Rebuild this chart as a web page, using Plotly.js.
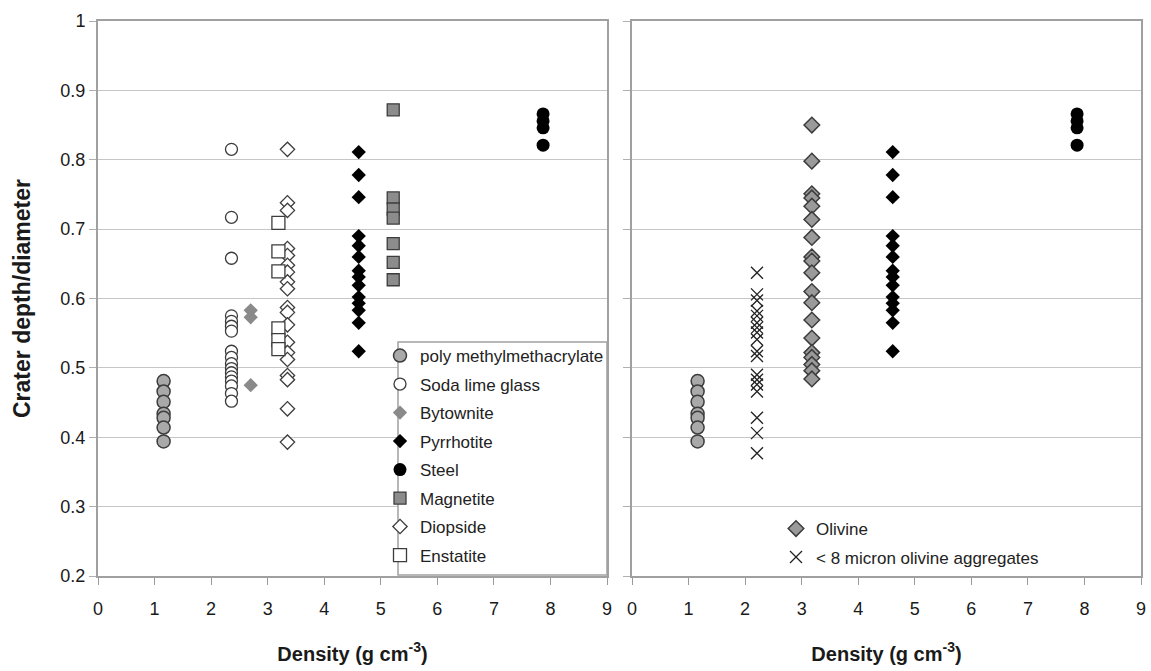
<!DOCTYPE html>
<html><head><meta charset="utf-8">
<script src="https://cdn.plot.ly/plotly-3.0.1.min.js"></script>
<style>body{margin:0;background:#fff}#chart{width:1151px;height:671px}</style>
</head><body><div id="chart"></div>
<script>
// Densities (g cm^-3)
const dPMMA = 1.16, dSoda = 2.36, dByt = 2.70, dEnst = 3.19, dDiop = 3.35,
      dPyrr = 4.61, dMagn = 5.22, dSteel = 7.87, dOliv = 3.18, dAgg = 2.21;

// Crater depth/diameter values
const pmma = [0.481, 0.466, 0.451, 0.434, 0.428, 0.414, 0.394];
const soda = [0.815, 0.717, 0.658, 0.575, 0.567, 0.560, 0.553, 0.524, 0.515, 0.506, 0.499, 0.493, 0.487, 0.481, 0.474, 0.463, 0.452];
const bytownite = [0.583, 0.573, 0.475];
const pyrrhotite = [0.811, 0.778, 0.746, 0.690, 0.676, 0.660, 0.640, 0.631, 0.619, 0.602, 0.593, 0.583, 0.565, 0.524];
const steel = [0.866, 0.856, 0.846, 0.821];
const magnetite = [0.872, 0.745, 0.729, 0.716, 0.679, 0.652, 0.627];
const diopside = [0.815, 0.738, 0.727, 0.672, 0.662, 0.648, 0.638, 0.624, 0.614, 0.587, 0.580, 0.562, 0.537, 0.522, 0.512, 0.489, 0.483, 0.441, 0.393];
const enstatite = [0.709, 0.668, 0.639, 0.557, 0.540, 0.527];
const olivine = [0.850, 0.798, 0.751, 0.745, 0.733, 0.714, 0.688, 0.660, 0.654, 0.637, 0.610, 0.594, 0.569, 0.543, 0.522, 0.515, 0.505, 0.496, 0.484];
const aggregates = [0.637, 0.606, 0.597, 0.582, 0.575, 0.565, 0.558, 0.551, 0.541, 0.524, 0.517, 0.490, 0.483, 0.476, 0.466, 0.428, 0.406, 0.377];

const xTicks = [0,1,2,3,4,5,6,7,8,9];
const yTicks = [0.2,0.3,0.4,0.5,0.6,0.7,0.8,0.9,1];
const yTickText = ['0.2','0.3','0.4','0.5','0.6','0.7','0.8','0.9','1'];

function rep(v, arr){ return arr.map(()=>v); }

function tr(name, xv, yv, marker, opts){
  return Object.assign({type:'scatter', mode:'markers', name:name,
    x: rep(xv, yv), y: yv, marker: marker, legendgroup: name, hoverinfo:'x+y'}, opts||{});
}

const mPMMA = {symbol:'circle', size:13, color:'#a9a9a9', line:{color:'#3c3c3c', width:1.5}};
const mSoda = {symbol:'circle', size:12, color:'#ffffff', line:{color:'#3c3c3c', width:1.3}};
const mByt = {symbol:'diamond', size:11, color:'#8a8a8a', line:{color:'#8a8a8a', width:0}};
const mPyrr = {symbol:'diamond', size:11, color:'#000000', line:{color:'#000', width:0}};
const mSteel = {symbol:'circle', size:13, color:'#000000', line:{color:'#000', width:0}};
const mMagn = {symbol:'square', size:12, color:'#8c8c8c', line:{color:'#3c3c3c', width:1.3}};
const mDiop = {symbol:'diamond', size:11, color:'#ffffff', line:{color:'#3c3c3c', width:1.3}};
const mEnst = {symbol:'square', size:13, color:'#ffffff', line:{color:'#3c3c3c', width:1.3}};
const mOliv = {symbol:'diamond', size:12, color:'#9a9a9a', line:{color:'#3c3c3c', width:1.5}};
const mAgg = {symbol:'x-thin-open', size:12, color:'#222222', line:{color:'#222222', width:1.3}};

const data = [
  tr('poly methylmethacrylate', dPMMA, pmma, mPMMA),
  tr('Soda lime glass', dSoda, soda, mSoda),
  tr('Bytownite', dByt, bytownite, mByt),
  tr('Pyrrhotite', dPyrr, pyrrhotite, mPyrr),
  tr('Steel', dSteel, steel, mSteel),
  tr('Magnetite', dMagn, magnetite, mMagn),
  tr('Diopside', dDiop, diopside, mDiop),
  tr('Enstatite', dEnst, enstatite, mEnst),
  tr('pmma2', dPMMA, pmma, mPMMA, {xaxis:'x2', yaxis:'y2', showlegend:false, legendgroup:'r1'}),
  tr('pyrr2', dPyrr, pyrrhotite, mPyrr, {xaxis:'x2', yaxis:'y2', showlegend:false, legendgroup:'r2'}),
  tr('steel2', dSteel, steel, mSteel, {xaxis:'x2', yaxis:'y2', showlegend:false, legendgroup:'r3'}),
  tr('< 8 micron olivine aggregates', dAgg, aggregates, mAgg, {xaxis:'x2', yaxis:'y2', legend:'legend2', legendgroup:'agg'}),
  tr('Olivine', dOliv, olivine, mOliv, {xaxis:'x2', yaxis:'y2', legend:'legend2', legendgroup:'oliv'})
];
data[12].legendrank = 1; data[11].legendrank = 2;

const F = '"Liberation Sans", Arial, sans-serif';
const axCommon = {
  range:[0,9], tickvals:xTicks, ticktext:xTicks.map(String), ticks:'outside', ticklen:7, tickcolor:'#9a9a9a',
  ticklabelstandoff:8,
  showline:true, mirror:true, linecolor:'#a0a0a0', linewidth:2, showgrid:false, zeroline:false,
  tickfont:{family:F, size:18, color:'#1a1a1a'},
  title:{text:'<b>Density (g cm<sup>-3</sup>)</b>', font:{family:F, size:20, color:'#1a1a1a'}, standoff:29}
};
const yCommon = {
  range:[0.2,1], tickvals:yTicks, ticktext:yTickText, ticks:'outside', ticklen:7, tickcolor:'#b0b0b0',
  showline:true, mirror:true, linecolor:'#a0a0a0', linewidth:2, showgrid:true, gridcolor:'#c6c6c6', gridwidth:1.2,
  zeroline:false, tickfont:{family:F, size:18, color:'#1a1a1a'}
};

const W = 1151, H = 671, ml = 98, mr = 10, mt = 21, mb = 95;
const pw = W-ml-mr, ph = H-mt-mb;
function px(xp){ return (xp-ml)/pw; }
function py(yp){ return (H-mb-yp)/ph; }

const layout = {
  width:W, height:H, margin:{l:ml, r:mr, t:mt, b:mb},
  paper_bgcolor:'#ffffff', plot_bgcolor:'#ffffff',
  font:{family:F, color:'#1a1a1a'},
  xaxis: Object.assign({}, axCommon, {domain:[0, px(607)], anchor:'y'}),
  xaxis2: Object.assign({}, axCommon, {domain:[px(632), 1], anchor:'y2'}),
  yaxis: Object.assign({}, yCommon, {anchor:'x',
    title:{text:'<b>Crater depth/diameter</b>', font:{family:F, size:23, color:'#1a1a1a'}, standoff:23}}),
  yaxis2: Object.assign({}, yCommon, {anchor:'x2', showticklabels:false}),
  showlegend:true,
  legend:{x:px(380), xanchor:'left', y:py(338), yanchor:'top', bgcolor:'rgba(0,0,0,0)',
    borderwidth:0, font:{family:F, size:17, color:'#222'}, tracegroupgap:3.4, itemsizing:'trace', traceorder:'grouped'},
  legend2:{x:px(776), xanchor:'left', y:py(511), yanchor:'top', bgcolor:'rgba(0,0,0,0)',
    borderwidth:0, font:{family:F, size:17, color:'#222'}, tracegroupgap:3.4, itemsizing:'trace', traceorder:'grouped'},
  shapes:[{type:'rect', xref:'paper', yref:'paper', x0:px(398), x1:px(607), y0:py(575), y1:py(342),
    fillcolor:'#ffffff', line:{color:'#a0a0a0', width:1.5}, layer:'above'}]
};

Plotly.newPlot('chart', data, layout, {displayModeBar:false, staticPlot:true});
</script>
</body></html>
